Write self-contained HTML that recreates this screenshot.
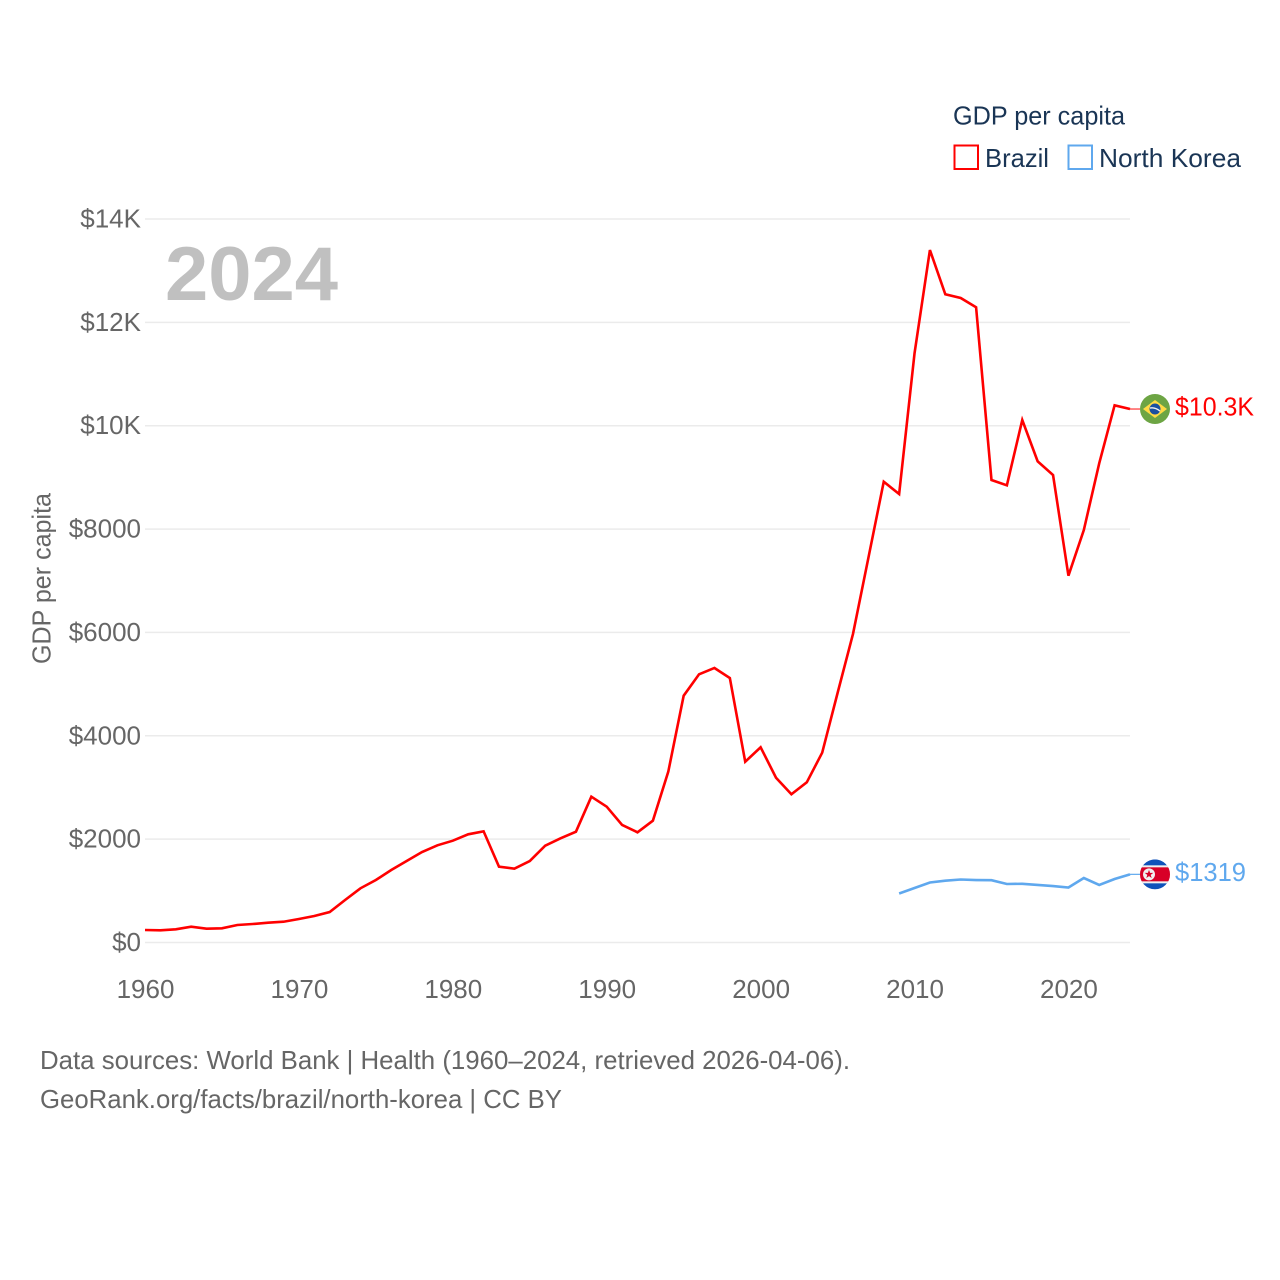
<!DOCTYPE html>
<html lang="en">
<head>
<meta charset="utf-8">
<title>GDP per capita: Brazil and North Korea</title>
<style>
html,body{margin:0;padding:0;background:#fff;width:1280px;height:1280px;overflow:hidden}
svg{display:block}
text{font-family:"Liberation Sans",sans-serif}
.tick{font-size:26px;fill:#666}
.note{font-size:26px;fill:#666}
.leg{font-size:26px;fill:#1a3555}
</style>
</head>
<body>
<svg id="chart" xmlns="http://www.w3.org/2000/svg" width="1280" height="1280" viewBox="0 0 1280 1280">
  <defs><clipPath id="flag-clip"><circle r="15"/></clipPath></defs>
  <rect width="1280" height="1280" fill="#fff"/>
  <g id="grid"></g>
  <g id="yticks"></g>
  <g id="xticks"></g>
  <text class="tick" transform="translate(50.5 578.5) rotate(-90)" text-anchor="middle" textLength="171" lengthAdjust="spacingAndGlyphs">GDP per capita</text>
  <text x="165" y="300" font-size="76" font-weight="700" fill="#c0c0c0" textLength="173" lengthAdjust="spacingAndGlyphs">2024</text>
  <g id="series"></g>
  <g>
    <text class="leg" x="953" y="124.5" textLength="172" lengthAdjust="spacingAndGlyphs">GDP per capita</text>
    <rect x="954.5" y="145.5" width="23.5" height="23.5" fill="none" stroke="#ff0000" stroke-width="2"/>
    <text class="leg" x="985" y="167" textLength="64" lengthAdjust="spacingAndGlyphs">Brazil</text>
    <rect x="1068.5" y="145.5" width="23.5" height="23.5" fill="none" stroke="#5fa8ee" stroke-width="2"/>
    <text class="leg" x="1099" y="167" textLength="142" lengthAdjust="spacingAndGlyphs">North Korea</text>
  </g>
  <g id="ends"></g>
  <text class="note" x="40" y="1069" textLength="810" lengthAdjust="spacingAndGlyphs">Data sources: World Bank | Health (1960–2024, retrieved 2026-04-06).</text>
  <text class="note" x="40" y="1108" textLength="522" lengthAdjust="spacingAndGlyphs">GeoRank.org/facts/brazil/north-korea | CC BY</text>
</svg>
<script>
var yearStart = 1960;
var yearEnd = 2024;
var yTickValues = [0, 2000, 4000, 6000, 8000, 10000, 12000, 14000];
var yTickLabels = ["$0", "$2000", "$4000", "$6000", "$8000", "$10K", "$12K", "$14K"];
var xTickValues = [1960, 1970, 1980, 1990, 2000, 2010, 2020];
var brazilYears = [1960,1961,1962,1963,1964,1965,1966,1967,1968,1969,1970,1971,1972,1973,1974,1975,1976,1977,1978,1979,1980,1981,1982,1983,1984,1985,1986,1987,1988,1989,1990,1991,1992,1993,1994,1995,1996,1997,1998,1999,2000,2001,2002,2003,2004,2005,2006,2007,2008,2009,2010,2011,2012,2013,2014,2015,2016,2017,2018,2019,2020,2021,2022,2023,2024];
var brazilValues = [242,236,255,306,267,275,339,358,383,402,455,513,590,822,1049,1209,1403,1577,1751,1881,1970,2094,2152,1467,1428,1577,1873,2016,2144,2821,2628,2274,2132,2357,3305,4776,5190,5312,5118,3498,3777,3189,2868,3100,3673,4828,5969,7440,8916,8678,11401,13400,12543,12471,12291,8949,8847,10110,9311,9046,7098,7982,9273,10395,10323];
var koreaYears = [2009,2010,2011,2012,2013,2014,2015,2016,2017,2018,2019,2020,2021,2022,2023,2024];
var koreaValues = [948,1055,1161,1196,1219,1209,1205,1132,1136,1113,1093,1064,1248,1113,1229,1319];
var brazilEndLabel = "$10.3K";
var koreaEndLabel = "$1319";

var NS = "http://www.w3.org/2000/svg";
function xScale(year){ return 145 + (year - yearStart) * (1130 - 145) / (yearEnd - yearStart); }
function yScale(v){ return 942.5 - v * (942.5 - 219) / 14000; }
function make(tag, attrs, parent){
  var el = document.createElementNS(NS, tag);
  for (var k in attrs) el.setAttribute(k, attrs[k]);
  parent.appendChild(el);
  return el;
}
var grid = document.getElementById("grid");
var yticks = document.getElementById("yticks");
var xticks = document.getElementById("xticks");
var series = document.getElementById("series");
var ends = document.getElementById("ends");

yTickValues.forEach(function(v, i){
  var line = make("line", {x1:145, x2:1130, y1:yScale(v), y2:yScale(v), stroke:"#ebebeb", "stroke-width":1.5}, grid);
  
  
  var t = make("text", {x:141, y:yScale(v)+8.5, "text-anchor":"end", "class":"tick"}, yticks);
  
  
  t.textContent = yTickLabels[i];
});
xTickValues.forEach(function(y){
  var t = make("text", {x:xScale(y)+0.5, y:998, "text-anchor":"middle", "class":"tick"}, xticks);
  
  
  t.textContent = y;
});
function pathFor(years, values){
  return years.map(function(y, i){
    return (i ? "L" : "M") + xScale(y).toFixed(2) + " " + yScale(values[i]).toFixed(2);
  }).join(" ");
}
var brazilLine = make("path", {d:pathFor(brazilYears, brazilValues), fill:"none", stroke:"#ff0000", "stroke-width":2.6, "stroke-linejoin":"miter"}, series);


var koreaLine = make("path", {d:pathFor(koreaYears, koreaValues), fill:"none", stroke:"#5fa8ee", "stroke-width":2.6}, series);



/* Brazil end marker */
var by = yScale(brazilValues[brazilValues.length-1]);
var bc = make("line", {x1:1130, x2:1140, y1:by, y2:by, stroke:"#ff0000", "stroke-width":1.2, opacity:0.8}, ends);


var bf = make("g", {transform:"translate(1155 "+by+")"}, ends);


make("circle", {r:15, fill:"#6da544"}, bf);
make("polygon", {points:"-12,0 0,-9 12,0 0,9", fill:"#ffda44"}, bf);
make("circle", {r:5.5, fill:"#1a4fa0"}, bf);
make("path", {d:"M-5 -1 Q0 -2 5 2", stroke:"#f0f0f0", "stroke-width":1.4, fill:"none"}, bf);
var bl = make("text", {x:1175, y:by+6.5, "font-size":26, fill:"#ff0000", textLength:79, lengthAdjust:"spacingAndGlyphs"}, ends);


bl.textContent = brazilEndLabel;

/* North Korea end marker */
var ky = yScale(koreaValues[koreaValues.length-1]);
var kc = make("line", {x1:1130, x2:1140, y1:ky, y2:ky, stroke:"#5fa8ee", "stroke-width":1.2}, ends);


var kf = make("g", {transform:"translate(1155 "+ky+")", "clip-path":"url(#flag-clip)"}, ends);


make("circle", {r:15, fill:"#0f52ba"}, kf);
make("rect", {x:-15, y:-9, width:30, height:18, fill:"#f0f0f0"}, kf);
make("rect", {x:-15, y:-7, width:30, height:14, fill:"#d80027"}, kf);
make("circle", {cx:-6, cy:0, r:6, fill:"#f0f0f0"}, kf);
make("polygon", {points:"-6,-4.5 -4.9,-1.4 -1.7,-1.4 -4.3,0.6 -3.3,3.7 -6,1.8 -8.7,3.7 -7.7,0.6 -10.3,-1.4 -7.1,-1.4", fill:"#d80027"}, kf);
var kl = make("text", {x:1175, y:ky+6.5, "font-size":26, fill:"#5fa8ee", textLength:71, lengthAdjust:"spacingAndGlyphs"}, ends);


kl.textContent = koreaEndLabel;
</script>
</body>
</html>
